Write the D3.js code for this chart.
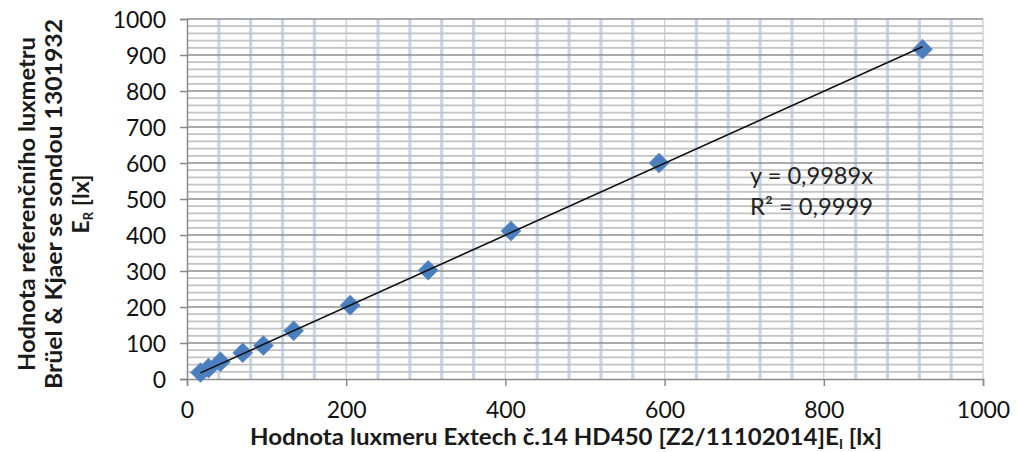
<!DOCTYPE html>
<html>
<head>
<meta charset="utf-8">
<script src="https://cdn.jsdelivr.net/npm/d3@7"></script>
<style>
  html, body { margin: 0; padding: 0; background: #fff; }
  svg { display: block; font-family: Lato, "Open Sans", sans-serif; }
</style>
</head>
<body>
<svg id="chart" width="1017" height="452"></svg>
<script>
// Measured illuminance: Extech meter reading (x) vs. reference meter reading (y), in lx
const extechLux    = [17, 27, 42, 70, 96, 134, 205, 303, 407, 593, 924];
const referenceLux = [18, 30, 48, 73, 93, 134, 205, 302, 411, 600, 916];

// Linear trend through the origin
const slope = 0.9989;
const rSquared = 0.9999;

// Axis ticks
const xTicks = [0, 200, 400, 600, 800, 1000];
const yTicks = [0, 100, 200, 300, 400, 500, 600, 700, 800, 900, 1000];
const xMinorStep = 40;
const yMinorStep = 20;

const fmt = v => String(v).replace(".", ",");

const svg = d3.select("#chart");
const plot = { left: 187, right: 983, top: 19, bottom: 379 };

const x = d3.scaleLinear().domain([0, 1000]).range([plot.left, plot.right]);
const y = d3.scaleLinear().domain([0, 1000]).range([plot.bottom, plot.top]);

// Vertical gridlines: thick light-blue minor lines, thin major lines
const xMinor = d3.range(0, 1001, xMinorStep).filter(v => !xTicks.includes(v));
svg.append("g").selectAll("line").data(xMinor).join("line")
  .attr("x1", d => x(d)).attr("x2", d => x(d))
  .attr("y1", plot.top).attr("y2", plot.bottom)
  .attr("stroke", "#c6d5ec").attr("stroke-width", 3.2);
svg.append("g").selectAll("line").data(xTicks.slice(1)).join("line")
  .attr("x1", d => x(d)).attr("x2", d => x(d))
  .attr("y1", plot.top).attr("y2", plot.bottom)
  .attr("stroke", "#bcd0ea").attr("stroke-width", 1.3);

// Horizontal gridlines: light grey minor, darker grey major
const yMinor = d3.range(0, 1001, yMinorStep).filter(v => !yTicks.includes(v));
svg.append("g").selectAll("line").data(yMinor).join("line")
  .attr("x1", plot.left).attr("x2", plot.right)
  .attr("y1", d => y(d)).attr("y2", d => y(d))
  .attr("stroke", "#c2c2c2").attr("stroke-width", 1.7);
svg.append("g").selectAll("line").data(yTicks.slice(1)).join("line")
  .attr("x1", plot.left).attr("x2", plot.right)
  .attr("y1", d => y(d)).attr("y2", d => y(d))
  .attr("stroke", "#8f8f8f").attr("stroke-width", 1.7);

// Axes
const axisColor = "#8a8a8a";
const xAxis = svg.append("g")
  .attr("transform", `translate(0,${plot.bottom})`)
  .call(d3.axisBottom(x).tickValues(xTicks).tickSize(7).tickPadding(16).tickFormat(d3.format("d")));
const yAxis = svg.append("g")
  .attr("transform", `translate(${plot.left},0)`)
  .call(d3.axisLeft(y).tickValues(yTicks).tickSize(7).tickPadding(14).tickFormat(d3.format("d")));

[xAxis, yAxis].forEach(ax => {
  ax.select(".domain").attr("stroke", axisColor).attr("stroke-width", 1.5);
  ax.selectAll(".tick line").attr("stroke", axisColor).attr("stroke-width", 1.5);
  ax.selectAll(".tick text")
    .attr("fill", "#111")
    .style("font-family", "Lato, sans-serif")
    .style("font-size", "23px");
});
xAxis.selectAll(".tick text").attr("dy", "0.71em");
yAxis.selectAll(".tick text").attr("dy", "0.35em");

// Data markers: diamonds
const diamond = d3.symbol().type(d3.symbolSquare).size(185);
svg.append("g").selectAll("path")
  .data(extechLux.map((v, i) => [v, referenceLux[i]]))
  .join("path")
  .attr("d", diamond)
  .attr("transform", d => `translate(${x(d[0])},${y(d[1])}) rotate(45)`)
  .attr("fill", "#4a7ebf")
  .attr("stroke", "#5585c2")
  .attr("stroke-width", 1);

// Trendline y = slope * x across the measured range
const xMin = d3.min(extechLux), xMax = d3.max(extechLux);
svg.append("line")
  .attr("x1", x(xMin)).attr("y1", y(slope * xMin))
  .attr("x2", x(xMax)).attr("y2", y(slope * xMax))
  .attr("stroke", "#111").attr("stroke-width", 1.6);

// Trendline equation
const eq = svg.append("g").attr("fill", "#222").style("font-size", "23px");
eq.append("text").attr("x", 750).attr("y", 184)
  .attr("textLength", 123).attr("lengthAdjust", "spacingAndGlyphs")
  .text(`y = ${fmt(slope)}x`);
eq.append("text").attr("x", 750).attr("y", 215)
  .attr("textLength", 123).attr("lengthAdjust", "spacingAndGlyphs")
  .text(`R² = ${fmt(rSquared)}`);

// X axis title
const xt = svg.append("text")
  .attr("x", 250).attr("y", 445)
  .attr("fill", "#1a1a1a")
  .style("font-weight", "bold").style("font-size", "23px")
  .attr("textLength", 632).attr("lengthAdjust", "spacingAndGlyphs");
xt.append("tspan").text("Hodnota luxmeru Extech č.14 HD450 [Z2/11102014]E");
xt.append("tspan").attr("dy", 4).style("font-size", "13px").text("I");
xt.append("tspan").attr("dy", -4).text(" [lx]");

// Y axis title (three rotated lines)
const yt = svg.append("g")
  .attr("transform", "translate(0,204) rotate(-90)")
  .attr("fill", "#1a1a1a")
  .style("font-weight", "bold").style("font-size", "23px")
  .attr("text-anchor", "middle");
yt.append("text").attr("x", 0).attr("y", 35)
  .attr("textLength", 334).attr("lengthAdjust", "spacingAndGlyphs")
  .text("Hodnota referenčního luxmetru");
yt.append("text").attr("x", 0).attr("y", 62)
  .attr("textLength", 370).attr("lengthAdjust", "spacingAndGlyphs")
  .text("Brüel & Kjaer se sondou 1301932");
const l3 = yt.append("text").attr("x", 0).attr("y", 89);
l3.append("tspan").text("E");
l3.append("tspan").attr("dy", 4).style("font-size", "13px").text("R");
l3.append("tspan").attr("dy", -4).text(" [lx]");
</script>
</body>
</html>
